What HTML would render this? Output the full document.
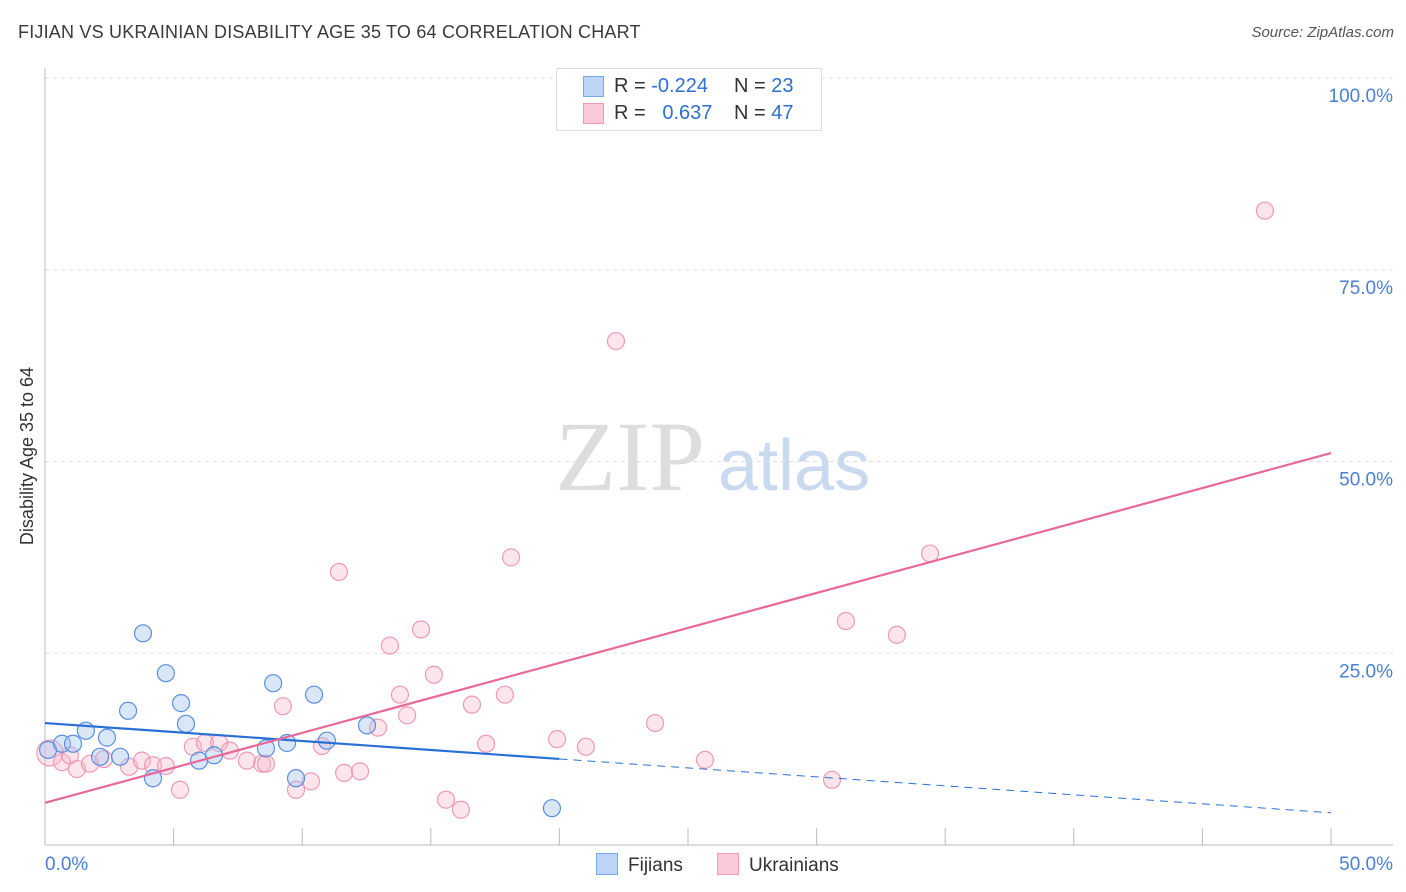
<!DOCTYPE html>
<html><head><meta charset="utf-8"><style>
body{margin:0;background:#fff;font-family:"Liberation Sans",sans-serif;}
#wrap{position:relative;width:1406px;height:892px;overflow:hidden;}
.t{position:absolute;white-space:nowrap;}
</style></head><body>
<div id="wrap">
<div class="t" style="left:18px;top:22px;font-size:18px;color:#3a3a3a;letter-spacing:0.2px">FIJIAN VS UKRAINIAN DISABILITY AGE 35 TO 64 CORRELATION CHART</div>
<div class="t" style="right:12px;top:24px;font-size:15px;color:#555;font-style:italic">Source: ZipAtlas.com</div>
<svg id="svg" width="1406" height="892" style="position:absolute;left:0;top:0"></svg>
</div>
<script>
const yTicks=[25,50,75,100];
const yTickLabels=["25.0%","50.0%","75.0%","100.0%"];
const fijX=[0.12,0.66,1.09,1.59,2.14,2.41,2.92,3.23,3.81,4.20,4.70,5.29,5.48,5.99,6.57,8.59,8.87,9.41,9.76,10.46,10.96,12.52,19.71];
const fijY=[12.4,13.2,13.2,14.9,11.5,14.0,11.5,17.5,27.6,8.7,22.4,18.5,15.8,11.0,11.7,12.6,21.1,13.3,8.7,19.6,13.6,15.6,4.8];
const ukrX=[0.19,0.66,0.97,1.24,1.75,2.29,3.27,3.77,4.20,4.70,5.25,5.75,6.22,6.77,7.19,7.85,8.44,8.59,9.25,9.76,10.34,10.77,11.43,11.63,12.25,12.95,13.41,13.80,14.08,14.62,15.12,15.59,16.17,16.60,17.15,17.88,18.12,19.91,21.03,22.20,23.72,25.66,30.60,31.14,33.12,34.41,47.43];
const ukrY=[12.0,10.8,11.7,9.9,10.6,11.2,10.2,11.0,10.4,10.3,7.2,12.8,13.3,13.3,12.3,11.0,10.6,10.6,18.1,7.2,8.3,12.9,35.6,9.4,9.6,15.3,26.0,19.6,16.9,28.1,22.2,5.9,4.6,18.3,13.2,19.6,37.5,13.8,12.8,65.7,15.9,11.1,8.5,29.2,27.4,38.0,82.7];
const fijTrend=[15.9,4.2]; // at x=0 and x=50
const ukrTrend=[5.5,51.1];
const fijSolidEnd=20;

const X=v=>45+v/50*1286, Y=v=>845-v*7.67;
const svg=document.getElementById('svg');const NS='http://www.w3.org/2000/svg';
function mk(t,a,p){const e=document.createElementNS(NS,t);for(const k in a)e.setAttribute(k,a[k]);(p||svg).appendChild(e);return e;}
// watermark
let w=mk('text',{x:555,y:490,'font-size':100,'font-family':'Liberation Serif',fill:'#ddd'});w.textContent='ZIP';


w=mk('text',{x:718,y:490,'font-size':72,'font-family':'Liberation Sans',fill:'#c9d9f0'});w.textContent='atlas';


// grid
yTicks.forEach((v,i)=>{
 const g=mk('line',{x1:45,x2:1393,y1:Y(v),y2:Y(v),stroke:'#ddd','stroke-dasharray':'4,4'});
 
 
 const t=mk('text',{x:1393,y:Y(v)+24,'text-anchor':'end','font-size':19,fill:'#4a7fd4','font-family':'Liberation Sans'});t.textContent=yTickLabels[i];
 
 
});
mk('line',{x1:45,x2:45,y1:68,y2:845,stroke:'#bbb'});
mk('line',{x1:45,x2:1393,y1:845,y2:845,stroke:'#bbb'});
for(let i=1;i<=10;i++){const l=mk('line',{x1:X(i*5),x2:X(i*5),y1:828,y2:845,stroke:'#bbb'});
 
 }
let xl=mk('text',{x:45,y:870,'font-size':19,fill:'#4a7fd4'});xl.textContent='0.0%';


xl=mk('text',{x:1393,y:870,'text-anchor':'end','font-size':19,fill:'#4a7fd4'});xl.textContent='50.0%';


let yt=mk('text',{x:33,y:456,'font-size':18,fill:'#333','text-anchor':'middle',transform:'rotate(-90 33 456)'});yt.textContent='Disability Age 35 to 64';


// points
ukrX.forEach((x,i)=>{const c=mk('circle',{cx:X(x),cy:Y(ukrY[i]),r:i==0?13:8.5,fill:'rgba(248,180,200,0.35)',stroke:'#ef9ab5','stroke-width':1.2});
 
 });
fijX.forEach((x,i)=>{const c=mk('circle',{cx:X(x),cy:Y(fijY[i]),r:8.5,fill:'rgba(160,195,240,0.4)',stroke:'#5a8fe0','stroke-width':1.2});
 
 });
// trends
const fy=x=>fijTrend[0]+(fijTrend[1]-fijTrend[0])*x/50;
let l=mk('line',{x1:X(0),y1:Y(fy(0)),x2:X(fijSolidEnd),y2:Y(fy(fijSolidEnd)),stroke:'#2a6fd6','stroke-width':2.2});


l=mk('line',{x1:X(fijSolidEnd),y1:Y(fy(fijSolidEnd)),x2:X(50),y2:Y(fy(50)),stroke:'#2a6fd6','stroke-width':1,'stroke-dasharray':'8,6'});


l=mk('line',{x1:X(0),y1:Y(ukrTrend[0]),x2:X(50),y2:Y(ukrTrend[1]),stroke:'#e8689a','stroke-width':2.2});


</script>
<div class="t" style="left:556px;top:68px;width:264px;height:61px;border:1px solid #ddd;background:#fff;font-size:20px;color:#333">
 <div style="position:absolute;left:26px;top:7px;width:19px;height:19px;background:#bcd4f5;border:1px solid #7aa6e6"></div>
 <div style="position:absolute;left:26px;top:34px;width:19px;height:19px;background:#fbcad8;border:1px solid #ef9ab5"></div>
 <div class="t" style="left:57px;top:6px">R = <span style="color:#2f6fd0">-0.224</span></div>
 <div class="t" style="left:177px;top:6px">N = <span style="color:#2f6fd0">23</span></div>
 <div class="t" style="left:57px;top:33px">R = <span style="color:#2f6fd0">&nbsp; 0.637</span></div>
 <div class="t" style="left:177px;top:33px">N = <span style="color:#2f6fd0">47</span></div>
</div>
<div class="t" style="left:596px;top:853px;font-size:19px;color:#333"><span style="display:inline-block;width:20px;height:20px;background:#bcd4f5;border:1px solid #7aa6e6;vertical-align:-4px;margin-right:10px"></span>Fijians</div>
<div class="t" style="left:717px;top:853px;font-size:19px;color:#333"><span style="display:inline-block;width:20px;height:20px;background:#fbcad8;border:1px solid #ef9ab5;vertical-align:-4px;margin-right:10px"></span>Ukrainians</div>
</body></html>
